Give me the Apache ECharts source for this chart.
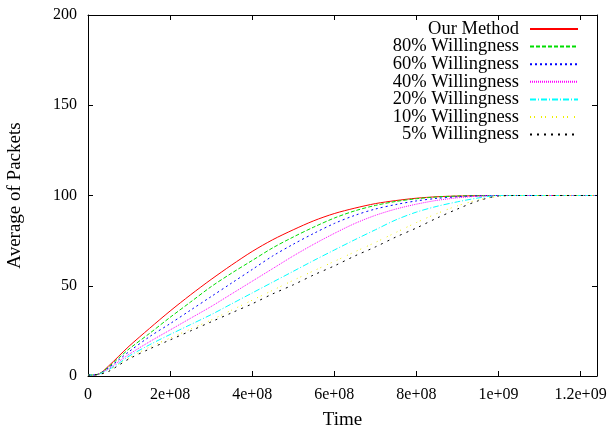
<!DOCTYPE html>
<html><head><meta charset="utf-8">
<script src="https://cdn.jsdelivr.net/npm/echarts@6/dist/echarts.min.js"></script>
<style>html,body{margin:0;padding:0;background:#fff}#c{width:614px;height:428px}</style>
</head><body><div id="c"></div>
<script>
// time points (x, in units of 1e8)
var times = [0,0.25,0.5,0.75,1,1.5,2,2.5,3,3.5,4,4.5,5,5.5,6,6.5,7,7.5,8,8.5,9,9.5,10,10.5,11,11.5,12,12.4];
var seriesNames = ['Our Method','80% Willingness','60% Willingness','40% Willingness','20% Willingness','10% Willingness','5% Willingness'];
var ourMethod = [0.5,1,5.5,11,16.5,26.4,36,45,53.5,61.5,69,75.5,81,86,90,93,95.5,97.2,98.5,99.3,99.7,99.9,100,100,100,100,100,100];
var will80 = [0.5,1,5,10,15,23.6,32.5,41,49.5,57,64,71,77,82.5,87.5,91.5,94.5,96.7,98.2,99.2,99.7,99.9,100,100,100,100,100,100];
var will60 = [0.5,1,4.5,9,13.5,21.8,29,36.5,44,51.5,59,66.5,73,79,84.5,89,92.5,95,97,98.4,99.3,99.8,100,100,100,100,100,100];
var will40 = [0.5,1,4,8,12,19,25.5,32,38.5,45.5,52.5,59.5,66.5,73,79,84.5,89,92.5,95.2,97.3,98.7,99.6,100,100,100,100,100,100];
var will20 = [0.5,1,3.5,7,11,17.3,23,28.5,34,40,46,52,58,64,69.8,75.5,81,86.5,90.8,94,96.5,98.6,100,100,100,100,100,100];
var will10 = [0.5,1,3,6.5,10,16,21,26,31,36.5,42,47.5,53,58.3,63.5,68.8,74,79.5,85,90,94.3,97.5,99.5,100,100,100,100,100];
var will5 = [0.5,0.8,2.5,6,9.5,15,20,25,30,35,40,45.5,50.5,56,61,66.5,71.5,77,82,87.5,92.5,97,99.7,100,100,100,100,100];
var xTicks = [0,2e8,4e8,6e8,8e8,1e9,1.2e9];
var xTickLabels = ['0','2e+08','4e+08','6e+08','8e+08','1e+09','1.2e+09'];
var yTicks = [0,50,100,150,200];

var allValues = [ourMethod, will80, will60, will40, will20, will10, will5];
var colors = ['#ff0000','#00dd00','#0000ff','#ff00ff','#00ffff','#eeee00','#000000'];
var dashes = ['solid',[4,2],[2,3],[1,1],[6,2,1,2],[1,3,1,6],[2,5]];

var FONT = '"Liberation Serif","DejaVu Serif",serif';
var chart = echarts.init(document.getElementById('c'), null, {renderer:'canvas'});
var series = seriesNames.map(function(n,i){
  return {
    name:n, type:'line', xAxisIndex:0, yAxisIndex:0,
    data: times.map(function(t,j){return [t*1e8, allValues[i][j]];}),
    symbol:'none', smooth:0.3, silent:true,
    lineStyle:{color:colors[i], width:1, type:dashes[i]},
    itemStyle:{color:colors[i]}
  };
});
var axisCommon = {
  axisLine:{show:true, onZero:false, lineStyle:{color:'#000', width:1}},
  axisTick:{show:true, inside:true, length:5, lineStyle:{color:'#000'}},
  splitLine:{show:false}
};
chart.setOption({
  animation:false,
  backgroundColor:'#fff',
  grid:{left:88, top:15, right:17, bottom:52, containLabel:false, outerBoundsMode:'none'},
  legend:{
    orient:'vertical', align:'right', right:30, top:14.5,
    itemWidth:48, itemHeight:14, itemGap:-1.4,
    itemStyle:{opacity:0},
    textStyle:{fontFamily:FONT, fontSize:18.5, color:'#000', padding:[0,6,0,0]},
    data:seriesNames
  },
  xAxis:[
    Object.assign({type:'value', min:0, max:1.24e9, interval:2e8, position:'bottom',
      name:'Time', nameLocation:'middle', nameGap:35,
      nameTextStyle:{fontFamily:FONT, fontSize:19, color:'#000'},
      axisLabel:{fontFamily:FONT, fontSize:16, color:'#000', margin:11, showMaxLabel:false,
        formatter:function(v){var k=xTicks.indexOf(v); return k>=0?xTickLabels[k]:'';}}
    }, axisCommon),
    Object.assign({type:'value', min:0, max:1.24e9, interval:2e8, position:'top',
      axisLabel:{show:false}}, axisCommon)
  ],
  yAxis:[
    Object.assign({type:'value', min:0, max:200, interval:50, position:'left',
      name:'Average of Packets', nameLocation:'middle', nameGap:63, nameRotate:90,
      nameTextStyle:{fontFamily:FONT, fontSize:19, color:'#000'},
      axisLabel:{fontFamily:FONT, fontSize:16, color:'#000', margin:11,
        formatter:function(v){return yTicks.indexOf(v)>=0?String(v):'';}}
    }, axisCommon),
    Object.assign({type:'value', min:0, max:200, interval:50, position:'right',
      axisLabel:{show:false}}, axisCommon)
  ],
  series:series
});
</script></body></html>
